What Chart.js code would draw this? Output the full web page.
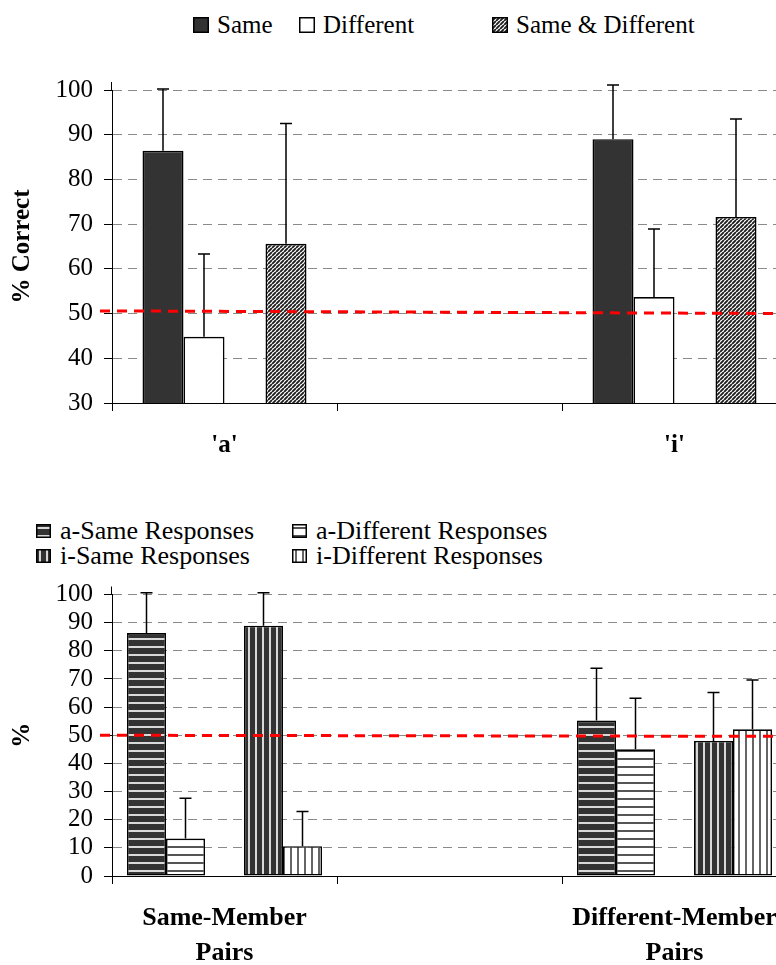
<!DOCTYPE html>
<html>
<head>
<meta charset="utf-8">
<script src="https://cdn.jsdelivr.net/npm/chart.js@4.4.1/dist/chart.umd.min.js"></script>
<style>
  html, body { margin: 0; padding: 0; background: #fff; overflow: hidden; }
  #page { position: relative; width: 776px; height: 965px; overflow: hidden;
          font-family: 'Liberation Serif', 'Times New Roman', serif; }
  canvas.chart { position: absolute; left: 0; }
  .leg { position: absolute; display: flex; align-items: center; font-size: 25px;
         line-height: 25px; white-space: nowrap; color: #000; }
  #legendBottom .leg { font-size: 26px; }
  .leg canvas { display: block; }
</style>
</head>
<body>
<div id="page">
  <div id="legendTop"></div>
  <canvas id="topChart" class="chart" width="800" height="430" style="top:40px"></canvas>
  <div id="legendBottom"></div>
  <canvas id="bottomChart" class="chart" width="800" height="394" style="top:571px"></canvas>
</div>
<script>
// top panel: % correct per vowel
const topCategories = ["'a'", "", "'i'"];
const topYTicks = [30, 40, 50, 60, 70, 80, 90, 100];
const sameVals = [86.4, null, 89.0];
const sameErr = [13.8, null, 12.1];
const diffVals = [44.8, null, 53.7];
const diffErr = [18.5, null, 15.2];
const bothVals = [65.6, null, 71.6];
const bothErr = [26.9, null, 21.9];
const chanceTop = [50.6, 50.0];

// bottom panel: responses per pair type
const bottomCategories = [["Same-Member", "Pairs"], "", ["Different-Member", "Pairs"]];
const bottomYTicks = [0, 10, 20, 30, 40, 50, 60, 70, 80, 90, 100];
const aSameVals = [86.3, null, 55.2];
const aSameErr = [14.3, null, 18.6];
const aDiffVals = [13.3, null, 45.0];
const aDiffErr = [14.3, null, 18.1];
const iSameVals = [88.9, null, 48.0];
const iSameErr = [11.7, null, 17.2];
const iDiffVals = [10.6, null, 52.1];
const iDiffErr = [12.3, null, 17.5];
const chanceBottom = [50.0, 49.6];

Chart.defaults.font.family = "'Liberation Serif', 'Times New Roman', serif";
Chart.defaults.color = '#000';

// pattern tiles
function stripeTile(bg, fg, horizontal, period) {
    const c = document.createElement('canvas');
    c.width = period; c.height = period;
    const g = c.getContext('2d');
    g.fillStyle = bg; g.fillRect(0, 0, period, period);
    g.fillStyle = fg;
    if (horizontal) g.fillRect(0, 3, period, 2);
    else g.fillRect(3, 0, 2, period);
    return c;
}
function diagTile() {
    const c = document.createElement('canvas');
    c.width = 4; c.height = 4;
    const g = c.getContext('2d');
    g.fillStyle = '#fff'; g.fillRect(0, 0, 4, 4);
    g.strokeStyle = '#1e1e1e'; g.lineWidth = 1.9;
    g.beginPath();
    for (const k of [-4, 0, 4]) { g.moveTo(k, 4); g.lineTo(k + 4, 0); }
    g.stroke();
    return c;
}
function solidTile(color) {
    const c = document.createElement('canvas');
    c.width = 2; c.height = 2;
    const g = c.getContext('2d');
    g.fillStyle = color; g.fillRect(0, 0, 2, 2);
    return c;
}

const tiles = {
    same: solidTile('#333333'),
    diff: solidTile('#ffffff'),
    both: diagTile(),
    aSame: stripeTile('#333333', '#d9d9d9', true, 8),
    aDiff: stripeTile('#ffffff', '#555555', true, 8),
    iSame: stripeTile('#333333', '#d9d9d9', false, 7),
    iDiff: stripeTile('#ffffff', '#666666', false, 7)
};

const errorBars = {
    id: 'errorBars',
    afterDatasetsDraw(chart) {
        const ctx = chart.ctx, y = chart.scales.y;
        chart.data.datasets.forEach((ds, di) => {
            if (!ds.errors) return;
            const meta = chart.getDatasetMeta(di);
            meta.data.forEach((bar, i) => {
                const v = ds.data[i], e = ds.errors[i];
                if (v == null || e == null) return;
                const yTop = y.getPixelForValue(v + e);
                ctx.save();
                ctx.strokeStyle = '#000';
                ctx.lineWidth = 1.5;
                ctx.beginPath();
                ctx.moveTo(bar.x, bar.y);
                ctx.lineTo(bar.x, yTop);
                ctx.moveTo(bar.x - 6, yTop);
                ctx.lineTo(bar.x + 6, yTop);
                ctx.stroke();
                ctx.restore();
            });
        });
    }
};

const chanceLine = {
    id: 'chanceLine',
    afterDatasetsDraw(chart, args, opts) {
        const y = chart.scales.y, ctx = chart.ctx;
        ctx.save();
        ctx.strokeStyle = '#ff0000';
        ctx.lineWidth = 3;
        ctx.setLineDash([10, 7]);
        ctx.beginPath();
        ctx.moveTo(opts.x0, y.getPixelForValue(opts.values[0]));
        ctx.lineTo(chart.width, y.getPixelForValue(opts.values[1]));
        ctx.stroke();
        ctx.restore();
    }
};

// the value axis runs a little past the top gridline
const axisStub = {
    id: 'axisStub',
    afterDraw(chart) {
        const a = chart.chartArea, ctx = chart.ctx;
        const x = Math.round(a.left) - 0.5;
        ctx.save();
        ctx.strokeStyle = '#000';
        ctx.lineWidth = 1;
        ctx.beginPath();
        ctx.moveTo(x, a.top - 8);
        ctx.lineTo(x, a.top);
        ctx.stroke();
        ctx.restore();
    }
};

function barSet(label, data, errors, tile, ctx) {
    return {
        label: label,
        data: data,
        errors: errors,
        backgroundColor: tile ? ctx.createPattern(tile, 'repeat') : 'transparent',
        borderColor: '#000',
        borderWidth: 1.6,
        borderSkipped: false,
        tile: tile
    };
}

function makeChart(id, labels, datasets, yTicks, title, chance, opt) {
    return new Chart(document.getElementById(id), {
        type: 'bar',
        data: { labels: labels, datasets: datasets },
        options: {
            responsive: false,
            animation: false,
            devicePixelRatio: 1,
            layout: { padding: { top: opt.padTop, right: 13, left: 0, bottom: 0 } },
            datasets: { bar: { categoryPercentage: opt.catPct, barPercentage: 1 } },
            plugins: {
                legend: { display: false },
                tooltip: { enabled: false },
                chanceLine: { values: chance, x0: 100 }
            },
            scales: {
                x: {
                    offset: true,
                    grid: { offset: true, drawOnChartArea: false, drawTicks: true,
                            tickLength: 8, tickColor: '#000', tickWidth: 1 },
                    border: { color: '#000', width: 1 },
                    ticks: { font: { size: opt.xFont, weight: 'bold', lineHeight: opt.xLine },
                             color: '#000', padding: opt.xPad, autoSkip: false, maxRotation: 0 },
                    afterFit(s) { s.height = opt.xHeight; }
                },
                y: {
                    min: yTicks[0],
                    max: yTicks[yTicks.length - 1],
                    ticks: { stepSize: yTicks[1] - yTicks[0], font: { size: 25, lineHeight: 1 },
                             color: '#000', padding: 11, autoSkip: false },
                    grid: { color: '#8a8a8a', lineWidth: 1, tickColor: '#000', tickLength: 8 },
                    border: { color: '#000', width: 1, dash: [9, 6] },
                    title: { display: true, text: title, color: '#000',
                             font: { size: 25, weight: 'bold' }, padding: { top: 8, bottom: 0 } },
                    afterFit(s) { s.width = 112; }
                }
            }
        },
        plugins: [errorBars, chanceLine, axisStub]
    });
}

function buildLegend(containerId, datasets, spots, box) {
    const holder = document.getElementById(containerId);
    datasets.filter(d => d.label !== '').forEach((d, i) => {
        const item = document.createElement('div');
        item.className = 'leg';
        item.style.left = spots[i][0] + 'px';
        item.style.top = spots[i][1] + 'px';
        const sw = document.createElement('canvas');
        sw.width = box[0]; sw.height = box[1];
        sw.style.marginRight = box[2] + 'px';
        const g = sw.getContext('2d');
        g.fillStyle = g.createPattern(d.tile, 'repeat');
        g.fillRect(0, 0, box[0], box[1]);
        g.strokeStyle = '#000'; g.lineWidth = 1.5;
        g.strokeRect(0.75, 0.75, box[0] - 1.5, box[1] - 1.5);
        const tx = document.createElement('span');
        tx.textContent = d.label;
        item.appendChild(sw);
        item.appendChild(tx);
        holder.appendChild(item);
    });
}

const topCtx = document.getElementById('topChart').getContext('2d');
const topSets = [
    barSet('Same', sameVals, sameErr, tiles.same, topCtx),
    barSet('Different', diffVals, diffErr, tiles.diff, topCtx),
    barSet('', [null, null, null], null, null, topCtx),
    barSet('Same & Different', bothVals, bothErr, tiles.both, topCtx)
];
makeChart('topChart', topCategories, topSets, topYTicks, '% Correct', chanceTop,
    { padTop: 50, catPct: 164 / 225, xFont: 25, xLine: 1.2, xPad: 20, xHeight: 67 });
buildLegend('legendTop', topSets, [[193, 12], [299, 12], [492, 12]], [16, 16, 8]);

const botCtx = document.getElementById('bottomChart').getContext('2d');
const bottomSets = [
    barSet('a-Same Responses', aSameVals, aSameErr, tiles.aSame, botCtx),
    barSet('a-Different Responses', aDiffVals, aDiffErr, tiles.aDiff, botCtx),
    barSet('', [null, null, null], null, null, botCtx),
    barSet('i-Same Responses', iSameVals, iSameErr, tiles.iSame, botCtx),
    barSet('i-Different Responses', iDiffVals, iDiffErr, tiles.iDiff, botCtx)
];
makeChart('bottomChart', bottomCategories, bottomSets, bottomYTicks, '%', chanceBottom,
    { padTop: 22, catPct: 195 / 225, xFont: 26, xLine: 1.346, xPad: 17, xHeight: 89 });
buildLegend('legendBottom', bottomSets, [[36, 518], [292, 518], [36, 543], [292, 543]], [15, 14, 9]);
</script>
</body>
</html>
